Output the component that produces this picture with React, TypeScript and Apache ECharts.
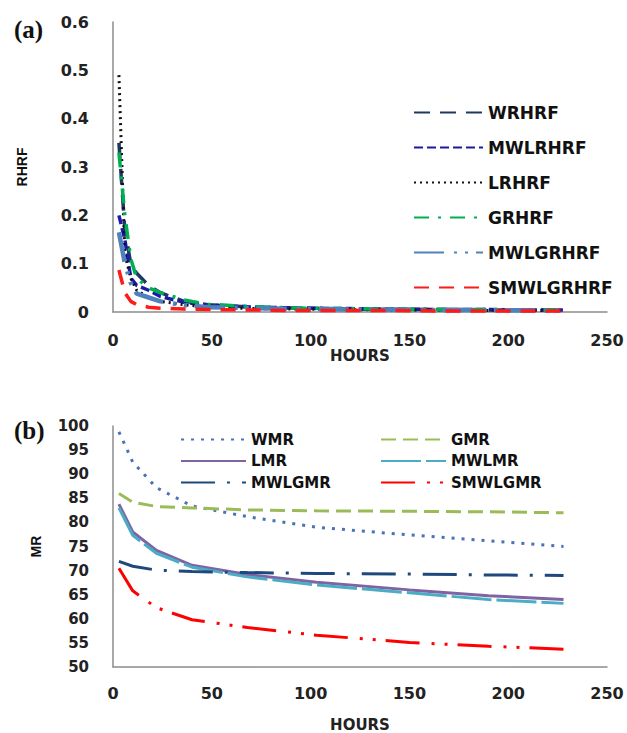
import React, { useEffect, useRef } from "react";
import * as echarts from "echarts";

// ---- Chart (a): RHRF vs hours ----
const hoursA = [3, 6, 9, 12, 18, 24, 36, 48, 72, 96, 120, 144, 168, 192, 216, 228];
const WRHRF = [0.35, 0.17, 0.1, 0.08, 0.055, 0.04, 0.022, 0.015, 0.01, 0.008, 0.006, 0.005, 0.005, 0.004, 0.004, 0.004];
const MWLRHRF = [0.2, 0.15, 0.07, 0.055, 0.045, 0.032, 0.02, 0.014, 0.01, 0.008, 0.007, 0.006, 0.005, 0.005, 0.004, 0.004];
const LRHRF = [0.49, 0.12, 0.07, 0.045, 0.03, 0.022, 0.015, 0.01, 0.007, 0.006, 0.005, 0.004, 0.004, 0.003, 0.003, 0.003];
const GRHRF = [0.33, 0.2, 0.11, 0.07, 0.05, 0.04, 0.025, 0.016, 0.011, 0.008, 0.007, 0.006, 0.005, 0.005, 0.004, 0.004];
const MWLGRHRF = [0.165, 0.1, 0.06, 0.038, 0.03, 0.022, 0.014, 0.01, 0.008, 0.006, 0.005, 0.005, 0.004, 0.004, 0.003, 0.003];
const SMWLGRHRF = [0.087, 0.04, 0.022, 0.015, 0.01, 0.008, 0.006, 0.005, 0.004, 0.003, 0.003, 0.003, 0.002, 0.002, 0.002, 0.002];

// ---- Chart (b): MR vs hours ----
const hoursB = [3, 10, 22, 40, 68, 103, 150, 190, 228];
const WMR = [98.8, 92.5, 87.2, 83.4, 81.2, 79, 77.4, 76.2, 75];
const GMR = [86, 84.2, 83.3, 83, 82.6, 82.4, 82.3, 82.2, 82];
const LMR = [83.8, 78, 74.2, 71.1, 69.2, 67.6, 66, 64.8, 64];
const MWLMR = [83, 77.3, 73.6, 70.7, 68.7, 67, 65.4, 64, 63.2];
const MWLGMR = [71.9, 70.9, 70.1, 69.8, 69.6, 69.4, 69.3, 69.1, 69];
const SMWLGMR = [70.5, 65.8, 62.3, 59.8, 58.2, 56.6, 55.1, 54.3, 53.7];

const pairs = (xs: number[], ys: number[]) => xs.map((x, i) => [x, ys[i]]);

const labelFont = {
  fontFamily: "DejaVu Sans",
  fontWeight: "bold" as const,
  color: "#222",
};

export default function App() {
  const ref = useRef<HTMLDivElement>(null);
  useEffect(() => {
    if (!ref.current) return;
    const chart = echarts.init(ref.current, null, { renderer: "svg" });

    const lineA = (name: string, data: number[], color: string, type: any, width = 3.5) => ({
      name,
      type: "line",
      xAxisIndex: 0,
      yAxisIndex: 0,
      data: pairs(hoursA, data),
      showSymbol: false,
      symbol: "none",
      color,
      lineStyle: { color, width, type },
    });
    const lineB = (name: string, data: number[], color: string, type: any, width = 3) => ({
      name,
      type: "line",
      xAxisIndex: 1,
      yAxisIndex: 1,
      data: pairs(hoursB, data),
      showSymbol: false,
      symbol: "none",
      color,
      lineStyle: { color, width, type },
    });

    const axisLine = { show: true, lineStyle: { color: "#8c8c8c", width: 1.5 } };
    const legendItemStyle = { opacity: 0 };

    chart.setOption({
      animation: false,
      backgroundColor: "#fff",
      title: [
        {
          text: "(a)",
          left: 9,
          top: 12,
          textStyle: { fontFamily: "Liberation Serif", fontWeight: "bold", fontSize: 25, color: "#111" },
        },
        {
          text: "(b)",
          left: 9,
          top: 413,
          textStyle: { fontFamily: "Liberation Serif", fontWeight: "bold", fontSize: 25, color: "#111" },
        },
      ],
      grid: [
        { left: 113, top: 22, width: 494, height: 290 },
        { left: 113, top: 426, width: 494, height: 244 },
      ],
      xAxis: [
        {
          gridIndex: 0,
          type: "value",
          min: 0,
          max: 250,
          interval: 50,
          axisLine,
          axisTick: { show: false },
          splitLine: { show: false },
          axisLabel: { ...labelFont, fontSize: 16, margin: 20 },
          name: "HOURS",
          nameLocation: "middle",
          nameGap: 36,
          nameTextStyle: { ...labelFont, fontSize: 15 },
        },
        {
          gridIndex: 1,
          type: "value",
          min: 0,
          max: 250,
          interval: 50,
          axisLine,
          axisTick: { show: false },
          splitLine: { show: false },
          axisLabel: { ...labelFont, fontSize: 16, margin: 18 },
          name: "HOURS",
          nameLocation: "middle",
          nameGap: 50,
          nameTextStyle: { ...labelFont, fontSize: 15 },
        },
      ],
      yAxis: [
        {
          gridIndex: 0,
          type: "value",
          min: 0,
          max: 0.6,
          interval: 0.1,
          axisLine,
          axisTick: { show: false },
          splitLine: { show: false },
          axisLabel: { ...labelFont, fontSize: 16, margin: 24 },
          name: "RHRF",
          nameLocation: "middle",
          nameGap: 84,
          nameTextStyle: { fontFamily: "Liberation Sans", fontWeight: "bold", fontSize: 14, color: "#111" },
        },
        {
          gridIndex: 1,
          type: "value",
          min: 50,
          max: 100,
          interval: 5,
          axisLine,
          axisTick: { show: false },
          splitLine: { show: false },
          axisLabel: { ...labelFont, fontSize: 15, margin: 24 },
          name: "MR",
          nameLocation: "middle",
          nameGap: 70,
          nameTextStyle: { fontFamily: "Liberation Sans", fontWeight: "bold", fontSize: 14, color: "#111" },
        },
      ],
      legend: [
        {
          orient: "vertical",
          left: 408,
          top: 99,
          itemWidth: 69,
          itemHeight: 14,
          itemGap: 18,
          itemStyle: legendItemStyle,
          data: ["WRHRF", "MWLRHRF", "LRHRF", "GRHRF", "MWLGRHRF", "SMWLGRHRF"],
          textStyle: { ...labelFont, fontSize: 17, lineHeight: 17, color: "#111" },
        },
        {
          orient: "vertical",
          left: 175,
          top: 427,
          itemWidth: 65,
          itemHeight: 12,
          itemGap: 6.5,
          itemStyle: legendItemStyle,
          data: ["WMR", "LMR", "MWLGMR"],
          textStyle: { ...labelFont, fontSize: 15, lineHeight: 15, color: "#111" },
        },
        {
          orient: "vertical",
          left: 375,
          top: 427,
          itemWidth: 65,
          itemHeight: 12,
          itemGap: 6.5,
          itemStyle: legendItemStyle,
          data: ["GMR", "MWLMR", "SMWLGMR"],
          textStyle: { ...labelFont, fontSize: 15, lineHeight: 15, color: "#111" },
        },
      ],
      series: [
        lineA("WRHRF", WRHRF, "#1f3864", [16, 10]),
        lineA("MWLRHRF", MWLRHRF, "#1a1aa6", [9, 4]),
        lineA("LRHRF", LRHRF, "#111111", [2, 4], 3),
        lineA("GRHRF", GRHRF, "#00b050", [15, 9, 3, 9]),
        lineA("MWLGRHRF", MWLGRHRF, "#4f81bd", [30, 10, 3, 8, 3, 8], 4.5),
        lineA("SMWLGRHRF", SMWLGRHRF, "#ff1a1a", [15, 10]),
        lineB("WMR", WMR, "#4a72b5", [3, 7]),
        lineB("GMR", GMR, "#9bbb59", [15, 7]),
        lineB("LMR", LMR, "#8064a2", "solid"),
        lineB("MWLMR", MWLMR, "#4bacc6", [40, 5]),
        lineB("MWLGMR", MWLGMR, "#1f497d", [34, 12, 3, 12]),
        lineB("SMWLGMR", SMWLGMR, "#ff0000", [34, 12, 3, 10, 3, 10]),
      ],
    });
    return () => chart.dispose();
  }, []);

  return (
    <div
      ref={ref}
      style={{ position: "absolute", left: 0, top: 0, width: 627, height: 733, background: "#fff" }}
    />
  );
}
